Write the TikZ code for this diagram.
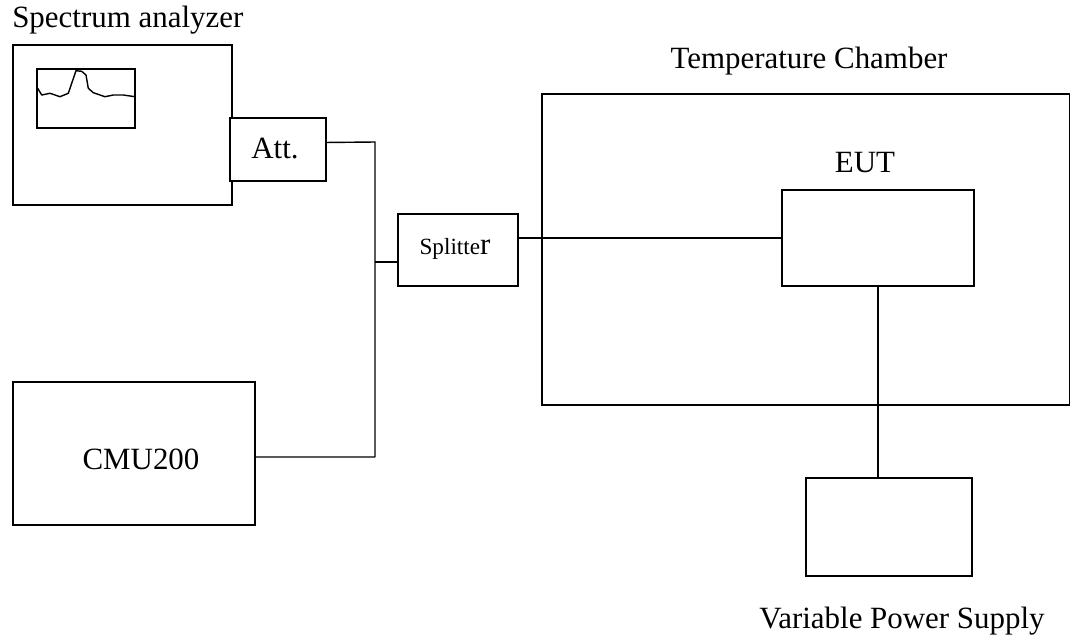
\documentclass[tikz,border=0pt]{standalone}
\usepackage{fontspec}
\setmainfont{Liberation Serif}
\usetikzlibrary{positioning, fit, calc}

\begin{document}
\begin{tikzpicture}[
    x=0.025cm, y=-0.025cm,
    box/.style={draw, line width=1pt, inner sep=0pt},
    label/.style={anchor=base, inner sep=0pt, font=\fontsize{22}{26}\selectfont},
    link/.style={line width=1pt}
]
    \useasboundingbox (0,0) rectangle (1070,639);

    % Boxes
    \node[box, fit={(13,45) (232,205)}] (analyzer) {};
    \node[box, fit={(37,69) (135,128)}] (screen) {};
    \node[box, fill=white, fit={(230,118) (326,181)}] (att) {};
    \node[box, fit={(398,214) (518,286)}] (splitter) {};
    \node[box, fit={(13,382) (255,525)}] (cmu) {};
    \node[box, fit={(542,94) (1069.5,405)}] (chamber) {};
    \node[box, fit={(782,190) (974,286)}] (eut) {};
    \node[box, fit={(806,478) (972,576)}] (psu) {};

    % Labels
    \node[label, anchor=base west] (analyzerlbl) at (12,27) {Spectrum analyzer};
    \node[label] (attlbl) at (275,158) {Att.};
    \node[label] (splitterlbl) at (455,254) {\fontsize{16.5}{20}\selectfont Splitte\fontsize{22}{26}\selectfont r};
    \node[label] (cmulbl) at (141,469) {CMU200};
    \node[label] (chamberlbl) at (809,68) {Temperature Chamber};
    \node[label] (eutlbl) at (865,172) {EUT};
    \node[label] (psulbl) at (902,628) {Variable Power Supply};

    % Screen trace
    \draw[line width=1pt, line join=round]
        (37.7,88.3) -- (41.7,95) -- (50,93.3) -- (60,96.7) -- (68.3,93.3)
        -- (71.7,83.3) -- (76,70.7) -- (81.7,71.3) -- (86,75) -- (88.3,88.3)
        -- (93.3,92.7) -- (105,96.7) -- (113.3,95) -- (123.3,95) -- (135,96.7);

    % Links
    \coordinate (bustop) at (375,142);
    \coordinate (busbot) at (375,457);
    \draw[link] ([yshift=5pt]att.east) -- (bustop) -- (busbot);
    \draw[link] ([yshift=-2.5pt]cmu.east) -- (busbot);
    \draw[link] ([yshift=-8.5pt]splitter.west) -- ([yshift=-8.5pt]splitter.west -| bustop);
    \draw[link] (eut.west -| splitter.east) -- (eut.west);
    \draw[link] (eut.south) -- (eut.south |- psu.north);
\end{tikzpicture}
\end{document}
